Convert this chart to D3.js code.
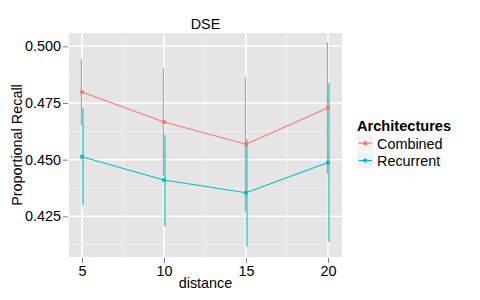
<!DOCTYPE html>
<html><head><meta charset="utf-8">
<script src="https://cdn.jsdelivr.net/npm/d3@7"></script>
<style>body{margin:0;background:#fff}svg{display:block;font-family:"Liberation Sans",Arial,Helvetica,sans-serif}</style>
</head><body><svg id="c" width="480" height="300"></svg>
<script>
const distances = [5, 10, 15, 20];
const seriesNames = ["Combined", "Recurrent"];
const combined   = [0.4798, 0.4666, 0.4568, 0.4729];
const combinedLo = [0.4653, 0.4428, 0.4270, 0.4437];
const combinedHi = [0.4943, 0.4904, 0.4863, 0.5018];
const recurrent   = [0.4513, 0.4410, 0.4354, 0.4487];
const recurrentLo = [0.4300, 0.4207, 0.4116, 0.4138];
const recurrentHi = [0.4726, 0.4609, 0.4590, 0.4837];
const yTicks = [0.425, 0.450, 0.475, 0.500];
const yMinor = [0.4125, 0.4375, 0.4625, 0.4875];
const xTicks = [5, 10, 15, 20];
const xMinor = [7.5, 12.5, 17.5];

const colors = {Combined: "#F8766D", Recurrent: "#00BFC4"};
const series = [
  {name: "Combined", v: combined, lo: combinedLo, hi: combinedHi, dx: -0.6, ew: 1, eo: 1},
  {name: "Recurrent", v: recurrent, lo: recurrentLo, hi: recurrentHi, dx: 0.9, ew: 2, eo: 0.6}
];

const svg = d3.select("#c");
const L = 69, R = 342, T = 33, B = 257;
const FS = 14.4;
const x = d3.scaleLinear().domain([4.207, 20.854]).range([L, R]);
const y = d3.scaleLinear().domain([0.40704, 0.50587]).range([B, T]);

svg.append("rect").attr("x", L).attr("y", T).attr("width", R - L).attr("height", B - T).attr("fill", "#E5E5E5");
const g = svg.append("g");
g.selectAll(".ymn").data(yMinor).join("line").attr("x1", L).attr("x2", R)
  .attr("y1", d => y(d)).attr("y2", d => y(d)).attr("stroke", "#F2F2F2").attr("stroke-width", 0.8);
g.selectAll(".xmn").data(xMinor).join("line").attr("y1", T).attr("y2", B)
  .attr("x1", d => x(d)).attr("x2", d => x(d)).attr("stroke", "#F2F2F2").attr("stroke-width", 0.8);
g.selectAll(".ymj").data(yTicks).join("line").attr("x1", L).attr("x2", R)
  .attr("y1", d => y(d)).attr("y2", d => y(d)).attr("stroke", "#fff").attr("stroke-width", 1.5);
g.selectAll(".xmj").data(xTicks).join("line").attr("y1", T).attr("y2", B)
  .attr("x1", d => x(d)).attr("x2", d => x(d)).attr("stroke", "#fff").attr("stroke-width", 1.5);

// axes
const yAxis = d3.axisLeft(y).tickValues(yTicks).tickFormat(d3.format(".3f")).tickSize(5).tickPadding(2);
const ya = svg.append("g").attr("transform", `translate(${L - 1},0)`).call(yAxis);
const xAxis = d3.axisBottom(x).tickValues(xTicks).tickFormat(d3.format("d")).tickSize(5).tickPadding(3);
const xa = svg.append("g").attr("transform", `translate(0,${B + 1})`).call(xAxis);
[ya, xa].forEach(a => {
  a.select(".domain").remove();
  a.selectAll(".tick line").attr("stroke", "#7F7F7F");
  a.selectAll(".tick text").attr("fill", "#000").attr("font-size", FS);
});

// error bars
series.forEach(s => {
  const col = colors[s.name];
  svg.append("g").selectAll("line").data(distances).join("line")
    .attr("x1", (d) => x(d) + s.dx).attr("x2", (d) => x(d) + s.dx)
    .attr("y1", (d, i) => y(s.lo[i])).attr("y2", (d, i) => y(s.hi[i]))
    .attr("stroke", col).attr("stroke-width", s.ew).attr("stroke-opacity", s.eo);
});
// lines and points
series.forEach(s => {
  const col = colors[s.name];
  const line = d3.line().x((d) => x(d)).y((d, i) => y(s.v[i]));
  svg.append("path").datum(distances).attr("d", line).attr("fill", "none")
    .attr("stroke", col).attr("stroke-width", 1.1);
  svg.append("g").selectAll("rect").data(distances).join("rect")
    .attr("x", d => x(d) - 1.8).attr("y", (d, i) => y(s.v[i]) - 1.8)
    .attr("width", 3.6).attr("height", 3.6).attr("fill", col);
});

// titles
svg.append("text").attr("x", (L + R) / 2).attr("y", 29).attr("text-anchor", "middle")
  .attr("font-size", FS).text("DSE");
svg.append("text").attr("x", (L + R) / 2).attr("y", 288).attr("text-anchor", "middle")
  .attr("font-size", FS).text("distance");
svg.append("text").attr("transform", `translate(22,${(T + B) / 2}) rotate(-90)`).attr("text-anchor", "middle")
  .attr("font-size", FS).text("Proportional Recall");

// legend
const lg = svg.append("g");
lg.append("text").attr("x", 357).attr("y", 131).attr("font-size", 14.6).attr("font-weight", "bold").text("Architectures");
seriesNames.forEach((n, i) => {
  const ky = 135 + i * 17.3;
  lg.append("rect").attr("x", 357).attr("y", ky).attr("width", 16.3).attr("height", 16.3).attr("fill", "#F2F2F2");
  lg.append("line").attr("x1", 358.5).attr("x2", 371.8).attr("y1", ky + 8.2).attr("y2", ky + 8.2)
    .attr("stroke", colors[n]).attr("stroke-width", 1.1);
  lg.append("rect").attr("x", 365.2 - 1.8).attr("y", ky + 8.2 - 1.8).attr("width", 3.6).attr("height", 3.6).attr("fill", colors[n]);
  lg.append("text").attr("x", 377).attr("y", ky + 13.5).attr("font-size", FS).text(n);
});
</script></body></html>
